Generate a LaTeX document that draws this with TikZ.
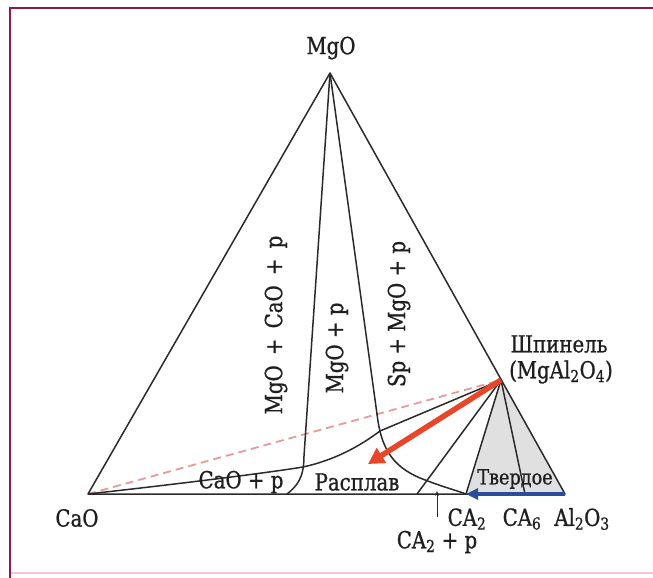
\documentclass[tikz,border=0pt]{standalone}
\usepackage{fontspec}
\setmainfont{DejaVu Serif}[FakeStretch=0.84,FakeBold=0.9]
\usetikzlibrary{arrows.meta}
\definecolor{framecol}{HTML}{8A1A50}
\definecolor{framepink}{HTML}{F4C6DE}
\definecolor{linecol}{HTML}{2A2A2A}
\definecolor{redarrow}{HTML}{E8462A}
\definecolor{reddash}{HTML}{E79A9A}
\definecolor{bluearrow}{HTML}{2A4D9B}
\definecolor{solidgray}{HTML}{E0E0E0}
\newcommand{\sbs}[1]{\textsubscript{#1}}
\begin{document}
\begin{tikzpicture}[x=1pt,y=-1pt,
  font=\fontsize{23.5}{26}\selectfont,
  phase/.style={draw=linecol, line width=1.5pt, line join=round},
  lbl/.style={inner sep=0pt, text=black!88},
  vlbl/.style={inner sep=0pt, rotate=90, text=black!88}]
\useasboundingbox (0,0) rectangle (653,578);
% frame
\draw[framepink, line width=1.2pt] (10,573) -- (653,573);
\draw[framecol, line width=1.6pt] (10,578) -- (10,8) -- (653,8);
% key points
\coordinate (A) at (330,73);
\coordinate (C) at (88,494);
\coordinate (L) at (565,494);
\coordinate (S) at (501,380);
\coordinate (B2) at (466,494);
\coordinate (B6) at (525,494);
\coordinate (Bp) at (417,494);
\coordinate (J) at (380,431);
\coordinate (Rt) at (368,464);
\coordinate (Tk) at (437,517);
\coordinate (Tt) at (437,491);
% shaded solid region
\fill[solidgray] (S) -- (B2) -- (L) -- cycle;
% red dashed line
\draw[reddash, line width=1.8pt, dash pattern=on 8pt off 5pt] (C) -- (S);
% main triangle
\draw[phase] (A) -- (C) -- (L) -- cycle;
% boundaries
\draw[phase] (A) -- (304,456) .. controls (304,478) and (297,486) .. (287,494);
\draw[phase] (A) -- (377,414) .. controls (381,448) and (392,466) .. (420,478) .. controls (440,486) and (455,490) .. (B2);
\draw[phase] (C) .. controls (160,486) and (260,474) .. (303,467) .. controls (335,460) and (360,446) .. (J) -- (S);
\draw[phase] (S) -- (Bp);
\draw[phase] (S) -- (B2);
\draw[phase] (S) -- (B6);
% arrows
\draw[redarrow, line width=5.5pt, -{Triangle[length=16pt,width=17pt]}] (S) -- (Rt);
\draw[bluearrow, line width=3.8pt, -{Triangle[length=12pt,width=11pt]}] (L) -- (B2);
\draw[linecol, line width=0.9pt, -{Stealth[length=5pt,width=4pt]}] (Tk) -- (Tt);
% labels
\node[lbl] (mgo) at (331,48) {MgO};
\node[lbl] (cao) at (77,518) {CaO};
\node[lbl] (ca2) at (467,519) {CA\sbs{2}};
\node[lbl] (ca6) at (522,519) {CA\sbs{6}};
\node[lbl] (al) at (582,519) {Al\sbs{2}O\sbs{3}};
\node[lbl] (ca2p) at (437,542) {CA\sbs{2} + p};
\node[lbl] (sp1) at (559,344) {Шпинель};
\node[lbl] (sp2) at (561,372) {(MgAl\sbs{2}O\sbs{4})};
\node[lbl, font=\fontsize{21}{24}\selectfont] (tv) at (515,479) {Твердое};
\node[lbl] (rs) at (357,482) {Расплав};
\node[lbl] (cp) at (241,482) {CaO + p};
\node[vlbl] (v1) at (276,325) {MgO\, + \,CaO\, + \,p};
\node[vlbl] (v2) at (337,348) {MgO + p};
\node[vlbl] (v3) at (399,314) {Sp + MgO + p};
\end{tikzpicture}
\end{document}
